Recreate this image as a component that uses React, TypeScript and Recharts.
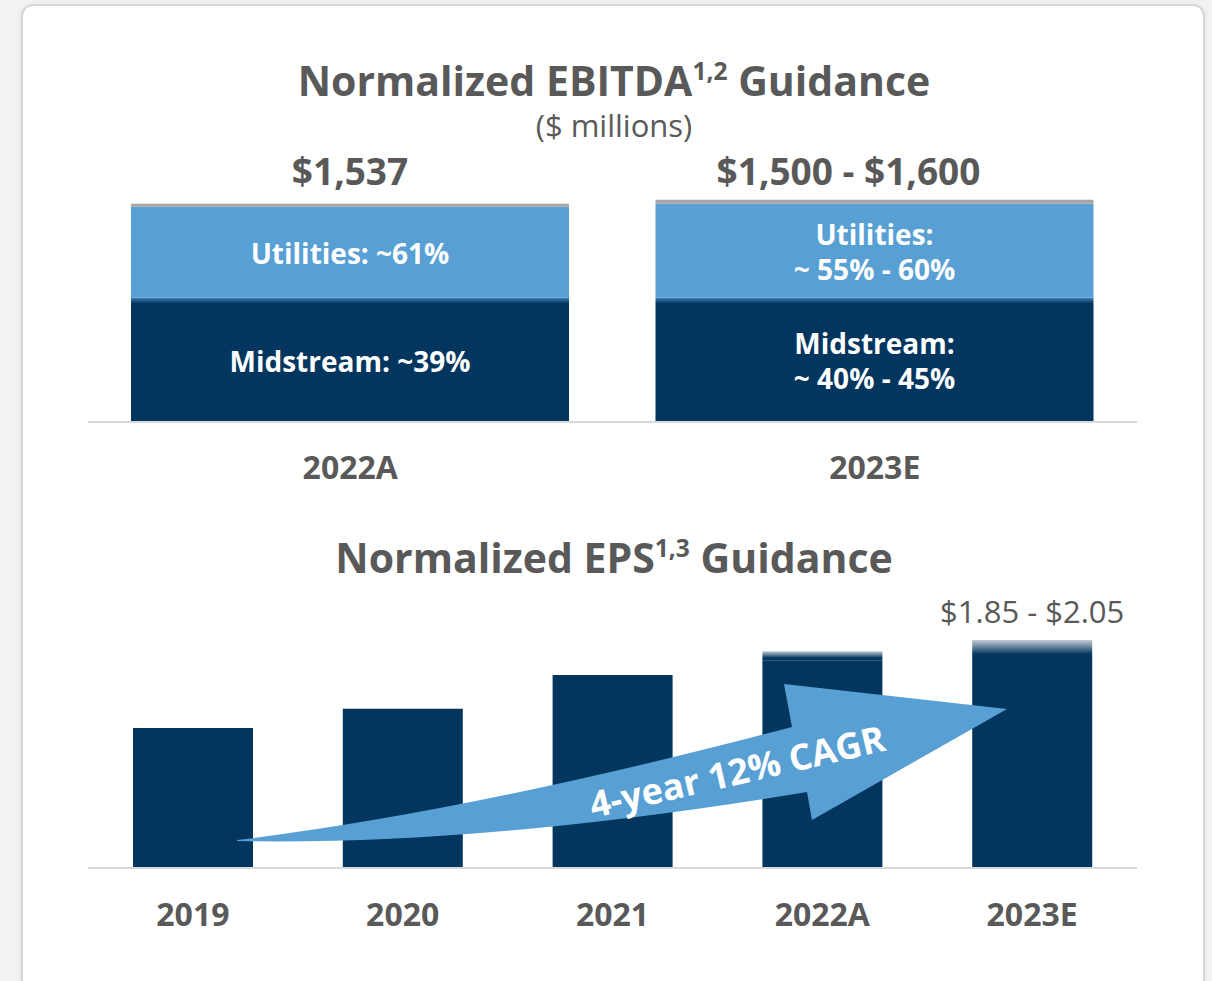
import React from "react";
import { BarChart, Bar, XAxis, YAxis, LabelList } from "recharts";

const NAVY = "#02365f";
const LIGHT_BLUE = "#58a0d4";
const CAP_GRAY = "#a6a6a6";
const TEXT_GRAY = "#595959";
const AXIS_GRAY = "#d9d9d9";
const FONT = "'Open Sans', 'Noto Sans', sans-serif";

// EBITDA guidance (values scaled to bar heights as drawn)
const EBITDA_CATEGORIES = ["2022A", "2023E"];
const EBITDA_MIDSTREAM = [875, 875];
const EBITDA_UTILITIES = [642, 663];
const EBITDA_CAP = [21, 28];
const EBITDA_TOTAL_LABELS = ["$1,537", "$1,500 - $1,600"];
const UTILITIES_LABELS = ["Utilities: ~61%", "Utilities:\n~ 55% - 60%"];
const MIDSTREAM_LABELS = ["Midstream: ~39%", "Midstream:\n~ 40% - 45%"];

// EPS guidance
const EPS_CATEGORIES = ["2019", "2020", "2021", "2022A", "2023E"];
const EPS_BASE = [1.24, 1.41, 1.71, 1.84, 1.85];
const EPS_FADE = [0, 0, 0, 0.08, 0.17];
const EPS_RANGE_LABELS = ["", "", "", "", "$1.85 - $2.05"];
const CAGR_LABEL = "4-year 12% CAGR";

// the range total above the 2023E bar sits a bit left of the bar centre
const TOTAL_LABEL_SHIFT = [0, -26];

const ebitdaData = EBITDA_CATEGORIES.map((name, i) => ({
  name,
  midstream: EBITDA_MIDSTREAM[i],
  utilities: EBITDA_UTILITIES[i],
  cap: EBITDA_CAP[i],
  total: EBITDA_TOTAL_LABELS[i],
  utilLabel: UTILITIES_LABELS[i],
  midLabel: MIDSTREAM_LABELS[i],
}));

const epsData = EPS_CATEGORIES.map((name, i) => ({
  name,
  base: EPS_BASE[i],
  fade: EPS_FADE[i],
  range: EPS_RANGE_LABELS[i],
}));

const Centered = ({
  x,
  y,
  size,
  weight = 700,
  children,
}: {
  x: number;
  y: number;
  size: number;
  weight?: number;
  children: React.ReactNode;
}) => (
  <div
    style={{
      position: "absolute",
      left: x,
      top: y,
      transform: "translate(-50%, -50%)",
      whiteSpace: "nowrap",
      fontFamily: FONT,
      fontSize: size,
      fontWeight: weight,
      color: TEXT_GRAY,
      lineHeight: 1,
    }}
  >
    {children}
  </div>
);

const Sup = ({ children }: { children: React.ReactNode }) => (
  <span style={{ fontSize: "0.6em", position: "relative", top: "-0.65em" }}>{children}</span>
);

const axisTick = (offset: number) => (props: any) => {
  const { x, y, payload } = props;
  return (
    <text
      x={x}
      y={y + offset}
      textAnchor="middle"
      dominantBaseline="central"
      fill={TEXT_GRAY}
      fontFamily={FONT}
      fontWeight={700}
      fontSize={32}
    >
      {payload.value}
    </text>
  );
};

const multiLineLabel = (props: any) => {
  const { x, y, width, height, value } = props;
  if (!value) return null;
  const lines = String(value).split("\n");
  const lineGap = 35;
  const cx = x + width / 2;
  const cy = y + height / 2 + 1;
  return (
    <text
      textAnchor="middle"
      dominantBaseline="central"
      fill="#ffffff"
      fontFamily={FONT}
      fontWeight={700}
      fontSize={28}
    >
      {lines.map((line, i) => (
        <tspan key={i} x={cx} y={cy + (i - (lines.length - 1) / 2) * lineGap}>
          {line}
        </tspan>
      ))}
    </text>
  );
};

const totalLabel = (props: any) => {
  const { x, width, value, index } = props;
  const shift = TOTAL_LABEL_SHIFT[index] ?? 0;
  return (
    <text
      x={x + width / 2 + shift}
      y={30}
      textAnchor="middle"
      dominantBaseline="central"
      fill={TEXT_GRAY}
      fontFamily={FONT}
      fontWeight={700}
      fontSize={37}
    >
      {value}
    </text>
  );
};

const rangeLabel = (props: any) => {
  const { x, y, width, value } = props;
  if (!value) return null;
  return (
    <text
      x={x + width / 2}
      y={y - 29}
      textAnchor="middle"
      dominantBaseline="central"
      fill={TEXT_GRAY}
      fontFamily={FONT}
      fontWeight={400}
      fontSize={31}
    >
      {value}
    </text>
  );
};

const CagrArrow = () => (
  <svg
    width={1212}
    height={981}
    style={{ position: "absolute", left: 0, top: 0, pointerEvents: "none" }}
  >
    <path
      d="M 237 840 Q 470 812 792 727 L 784 684 L 1007 709 L 812 820 L 807 792 Q 480 846 237 841 Z"
      fill={LIGHT_BLUE}
    />
    <text
      x={737}
      y={771}
      textAnchor="middle"
      dominantBaseline="central"
      fill="#ffffff"
      fontFamily={FONT}
      fontWeight={700}
      fontSize={36}
      transform="rotate(-13 737 771)"
    >
      {CAGR_LABEL}
    </text>
  </svg>
);

export default function App() {
  return (
    <div
      style={{
        position: "absolute",
        left: 0,
        top: 0,
        width: 1212,
        height: 981,
        overflow: "hidden",
        background: "#f3f3f3",
      }}
    >
      <div
        style={{
          position: "absolute",
          left: 21,
          top: 4,
          width: 1180,
          height: 1010,
          border: "2px solid #d6d6d6",
          borderRadius: 12,
          background: "#ffffff",
          boxShadow: "0 0 6px rgba(0,0,0,0.06)",
        }}
      />

      <Centered x={614} y={80} size={41}>
        Normalized EBITDA<Sup>1,2</Sup> Guidance
      </Centered>
      <Centered x={614} y={125} size={31} weight={400}>
        ($ millions)
      </Centered>

      <div style={{ position: "absolute", left: 88, top: 140 }}>
        <BarChart
          width={1049}
          height={370}
          data={ebitdaData}
          margin={{ top: 55, right: 0, left: 0, bottom: 0 }}
          barCategoryGap={0}
        >
          <defs>
            <linearGradient id="midGrad" x1="0" y1="0" x2="0" y2="1">
              <stop offset="0" stopColor="#3f7fb3" />
              <stop offset="0.045" stopColor={NAVY} />
              <stop offset="1" stopColor={NAVY} />
            </linearGradient>
          </defs>
          <XAxis
            dataKey="name"
            height={88}
            axisLine={{ stroke: AXIS_GRAY, strokeWidth: 2 }}
            tickLine={false}
            tickSize={0}
            tickMargin={0}
            tick={axisTick(44)}
            interval={0}
          />
          <YAxis hide domain={[0, 1600]} />
          <Bar dataKey="midstream" stackId="e" fill="url(#midGrad)" barSize={438} isAnimationActive={false}>
            <LabelList dataKey="midLabel" content={multiLineLabel} />
          </Bar>
          <Bar dataKey="utilities" stackId="e" fill={LIGHT_BLUE} barSize={438} isAnimationActive={false}>
            <LabelList dataKey="utilLabel" content={multiLineLabel} />
          </Bar>
          <Bar dataKey="cap" stackId="e" fill={CAP_GRAY} barSize={438} isAnimationActive={false}>
            <LabelList dataKey="total" content={totalLabel} />
          </Bar>
        </BarChart>
      </div>

      <Centered x={614} y={557} size={41}>
        Normalized EPS<Sup>1,3</Sup> Guidance
      </Centered>

      <div style={{ position: "absolute", left: 88, top: 580 }}>
        <BarChart
          width={1049}
          height={380}
          data={epsData}
          margin={{ top: 17, right: 0, left: 0, bottom: 0 }}
        >
          <defs>
            <linearGradient id="fadeGrad" x1="0" y1="0" x2="0" y2="1">
              <stop offset="0" stopColor="#c4ced8" />
              <stop offset="0.75" stopColor={NAVY} />
              <stop offset="1" stopColor={NAVY} />
            </linearGradient>
          </defs>
          <XAxis
            dataKey="name"
            height={92}
            axisLine={{ stroke: AXIS_GRAY, strokeWidth: 2 }}
            tickLine={false}
            tickSize={0}
            tickMargin={0}
            tick={axisTick(45)}
            interval={0}
          />
          <YAxis hide domain={[0, 2.4]} />
          <Bar dataKey="base" stackId="p" fill={NAVY} barSize={120} isAnimationActive={false} />
          <Bar dataKey="fade" stackId="p" fill="url(#fadeGrad)" barSize={120} isAnimationActive={false}>
            <LabelList dataKey="range" content={rangeLabel} />
          </Bar>
        </BarChart>
      </div>

      <CagrArrow />
    </div>
  );
}
